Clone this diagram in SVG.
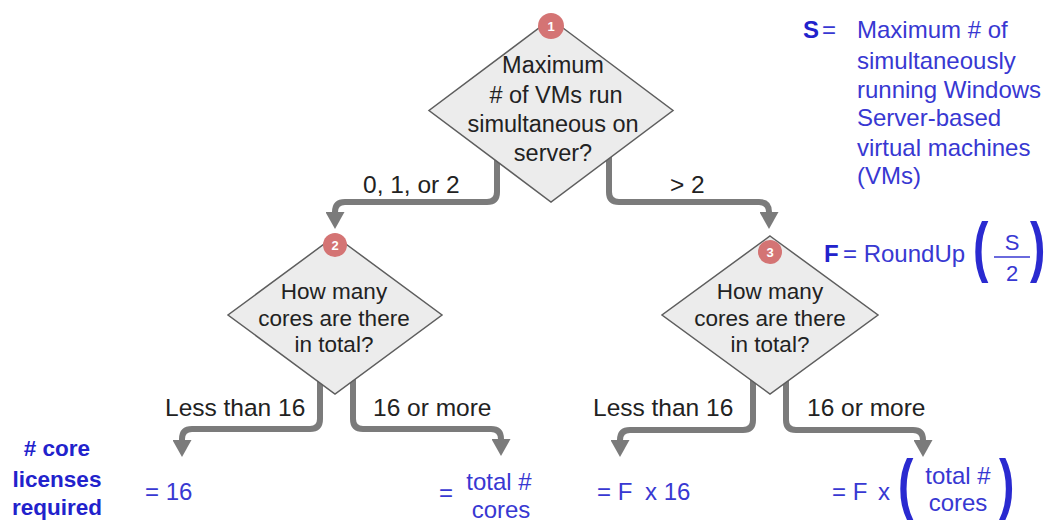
<svg xmlns="http://www.w3.org/2000/svg" width="1049" height="522" viewBox="0 0 1049 522">
<defs>
<marker id="ah" markerUnits="userSpaceOnUse" markerWidth="17" markerHeight="19" viewBox="0 0 17 19" refX="1" refY="9.5" orient="auto">
<path d="M0,0 L17,9.5 L0,19 z" fill="#7b7b7b"/>
</marker>
<style>
.dia{fill:#ececec;stroke:#5e5e5e;stroke-width:1.5}
.badge{fill:#d47474}
.bn{font-family:"Liberation Sans",Arial,sans-serif;font-size:13px;font-weight:bold;fill:#fff;text-anchor:middle}
.q{font-family:"Liberation Sans",Arial,sans-serif;font-size:22.5px;fill:#222;text-anchor:middle}
.q1{font-size:23.5px}
.lbl{font-family:"Liberation Sans",Arial,sans-serif;font-size:24.5px;fill:#222}
.blue{font-family:"Liberation Sans",Arial,sans-serif;font-size:24px;fill:#3838d2}
.bold{font-weight:bold;fill:#2222cc}
.par{font-size:66px;font-weight:bold;fill:#2a2ad0}
.conn{fill:none;stroke:#7b7b7b;stroke-width:6;marker-end:url(#ah)}
.mid{text-anchor:middle}
</style>
</defs>
<rect width="1049" height="522" fill="#fff"/>
<g id="connectors">
<path class="conn" d="M497,155 V192 Q497,202 487,202 H345 Q335,202 335,212 V213"/>
<path class="conn" d="M609,155 V192 Q609,202 619,202 H759 Q769,202 769,212 V213"/>
<path class="conn" d="M320,378 V419 Q320,429 310,429 H192 Q182,429 182,439 V441"/>
<path class="conn" d="M353,378 V419 Q353,429 363,429 H491 Q501,429 501,439 V440"/>
<path class="conn" d="M753,378 V420 Q753,430 743,430 H630 Q620,430 620,440 V441"/>
<path class="conn" d="M786,378 V420 Q786,430 796,430 H913 Q923,430 923,440 V441"/>
</g>
<g id="edge-labels">
<text class="lbl" x="363" y="193">0, 1, or 2</text>
<text class="lbl" x="670" y="193">&gt; 2</text>
<text class="lbl" x="165" y="416">Less than 16</text>
<text class="lbl" x="373" y="416">16 or more</text>
<text class="lbl" x="593" y="416">Less than 16</text>
<text class="lbl" x="807" y="416">16 or more</text>
</g>
<g id="node1">
<polygon class="dia" points="551,19 673,110.5 551,202 429,110.5"/>
<circle class="badge" cx="551" cy="26" r="13"/>
<text class="bn" x="551" y="31">1</text>
<text class="q q1" x="553" y="73">Maximum</text>
<text class="q q1" x="556" y="103">
# of VMs run</text>
<text class="q q1" x="553" y="132">simultaneous on</text>
<text class="q q1" x="553" y="161">server?</text>
</g>
<g id="node2">
<polygon class="dia" points="335,236 442,315 335,394 228,315"/>
<circle class="badge" cx="335" cy="245" r="12"/>
<text class="bn" x="335" y="250">2</text>
<text class="q" x="334" y="299">How many</text>
<text class="q" x="334" y="326">cores are there</text>
<text class="q" x="334" y="352">in total?</text>
</g>
<g id="node3">
<polygon class="dia" points="770,236 878,315 770,394 662,315"/>
<circle class="badge" cx="770" cy="252" r="12"/>
<text class="bn" x="770" y="257">3</text>
<text class="q" x="770" y="299">How many</text>
<text class="q" x="770" y="326">cores are there</text>
<text class="q" x="770" y="352">in total?</text>
</g>
<g id="legend-s">
<text class="blue bold" x="803" y="38">S</text>
<text class="blue" x="822" y="38">=</text>
<text class="blue" x="857" y="38">Maximum # of</text>
<text class="blue" x="857" y="69">simultaneously</text>
<text class="blue" x="857" y="98">running Windows</text>
<text class="blue" x="857" y="126">Server-based</text>
<text class="blue" x="857" y="156">virtual machines</text>
<text class="blue" x="857" y="184">(VMs)</text>
</g>
<g id="legend-f">
<text class="blue bold" x="824" y="262">F</text>
<text class="blue" x="843" y="262">= RoundUp</text>
<text class="blue par" x="973" y="269" transform="translate(973,269) scale(0.7,1) translate(-973,-269)">(</text>
<text class="blue mid" x="1012" y="250" style="font-size:22px">S</text>
<line x1="994" y1="257" x2="1030" y2="257" stroke="#3838d2" stroke-width="1.5"/>
<text class="blue mid" x="1012" y="281" style="font-size:22px">2</text>
<text class="blue par" x="1030" y="269" transform="translate(1030,269) scale(0.7,1) translate(-1030,-269)">)</text>
</g>
<g id="result-label">
<text class="blue bold mid" x="57" y="456" style="font-size:22.5px">
# core</text>
<text class="blue bold mid" x="57" y="487" style="font-size:22.5px">licenses</text>
<text class="blue bold mid" x="57" y="515" style="font-size:22.5px">required</text>
</g>
<g id="result1">
<text class="blue" x="145" y="500">= 16</text>
</g>
<g id="result2">
<text class="blue" x="439" y="501">=</text>
<text class="blue mid" x="499" y="490">total #</text>
<text class="blue mid" x="501" y="518">cores</text>
</g>
<g id="result3">
<text class="blue" x="597" y="500">= F</text>
<text class="blue" x="645" y="500">x 16</text>
</g>
<g id="result4">
<text class="blue" x="832" y="500">= F</text>
<text class="blue" x="878" y="500">x</text>
<text class="blue par" x="898" y="506" transform="translate(898,506) scale(0.7,1) translate(-898,-506)">(</text>
<text class="blue mid" x="958" y="484">total #</text>
<text class="blue mid" x="958" y="511">cores</text>
<text class="blue par" x="999" y="506" transform="translate(999,506) scale(0.7,1) translate(-999,-506)">)</text>
</g>
</svg>
